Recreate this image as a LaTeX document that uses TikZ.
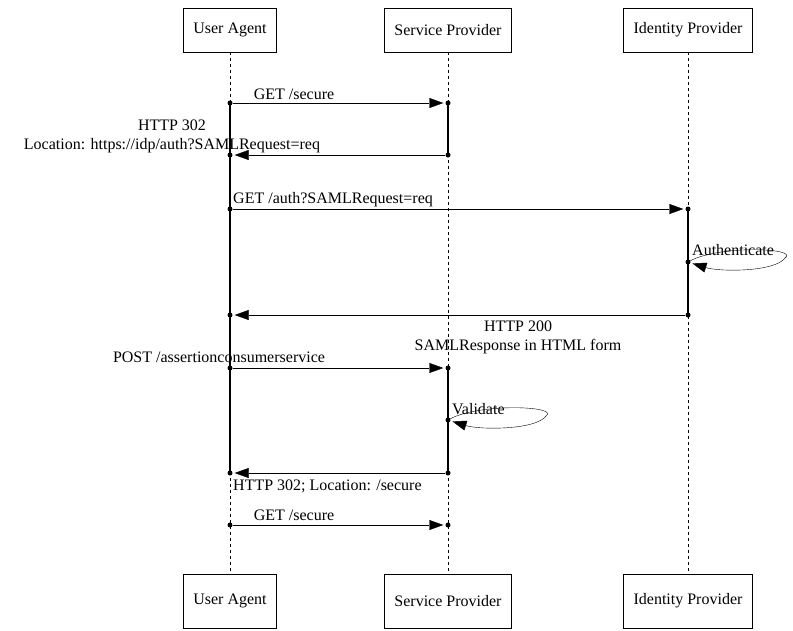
\documentclass[tikz,border=0pt]{standalone}
\usepackage{fontspec}
\setmainfont{Liberation Serif}
\usetikzlibrary{arrows.meta}
\tikzset{
  actor/.style={draw, minimum height=44pt, inner xsep=10pt, font=\fontsize{16}{19}\selectfont},
  msg/.style={-{Triangle[length=14pt,width=10pt]}, shorten >=2pt},
  lbl/.style={font=\fontsize{16}{19}\selectfont, inner sep=0pt, align=center},
  dot/.style={circle, fill, inner sep=0pt, minimum size=5pt},
  act/.style={line width=2pt}
}
\begin{document}
\begin{tikzpicture}[x=1pt,y=-1pt]
  \useasboundingbox (0,0) rectangle (793,630);
  % lifelines
  \node[actor] (ua) at (230,30) {User Agent};
  \node[actor] (sp) at (448,30) {Service Provider};
  \node[actor] (idp) at (688,30) {Identity Provider};
  \node[actor, minimum height=54pt] (ua2) at (230,601) {User Agent};
  \node[actor, minimum height=54pt] (sp2) at (448,601) {Service Provider};
  \node[actor, minimum height=54pt] (idp2) at (688,601) {Identity Provider};
  \draw[dashed] (ua) -- (ua2);
  \draw[dashed] (sp) -- (sp2);
  \draw[dashed] (idp) -- (idp2);
  % activations
  \draw[act] (230,103) -- (230,473);
  \draw[act] (448,103) -- (448,155);
  \draw[act] (688,209) -- (688,315);
  \draw[act] (448,368) -- (448,473);
  % message points
  \foreach \n/\x/\y in {a1/230/103, b1/448/103, a2/230/155, b2/448/155,
      a3/230/209, c3/688/209, c4/688/262, c5/688/315, a5/230/315,
      a6/230/368, b6/448/368, b7/448/420, a8/230/473, b8/448/473,
      a9/230/525, b9/448/525}
    \node[dot] (\n) at (\x,\y) {};
  % messages
  \draw[msg] (a1) -- (b1);
  \node[lbl] at (294,94) {GET /secure};
  \draw[msg] (b2) -- (a2);
  \node[lbl] at (172,136) {HTTP 302\\Location: https://idp/auth?SAMLRequest=req};
  \draw[msg] (a3) -- (c3);
  \node[lbl, anchor=west] at (233,200) {GET /auth?SAMLRequest=req};
  \draw[msg] (c4) .. controls (720,245) and (800,248) .. (785,258)
    .. controls (775,272) and (720,272) .. (c4);
  \node[lbl, anchor=west] at (692,250) {Authenticate};
  \draw[msg] (c5) -- (a5);
  \node[lbl] at (518,337) {HTTP 200\\SAMLResponse in HTML form};
  \draw[msg] (a6) -- (b6);
  \node[lbl] at (219,357) {POST /assertionconsumerservice};
  \draw[msg] (b7) .. controls (480,403) and (560,406) .. (546,416)
    .. controls (536,430) and (480,430) .. (b7);
  \node[lbl, anchor=west] at (452,409) {Validate};
  \draw[msg] (b8) -- (a8);
  \node[lbl, anchor=west] at (233,486) {HTTP 302; Location: /secure};
  \draw[msg] (a9) -- (b9);
  \node[lbl] at (294,515) {GET /secure};
\end{tikzpicture}
\end{document}
